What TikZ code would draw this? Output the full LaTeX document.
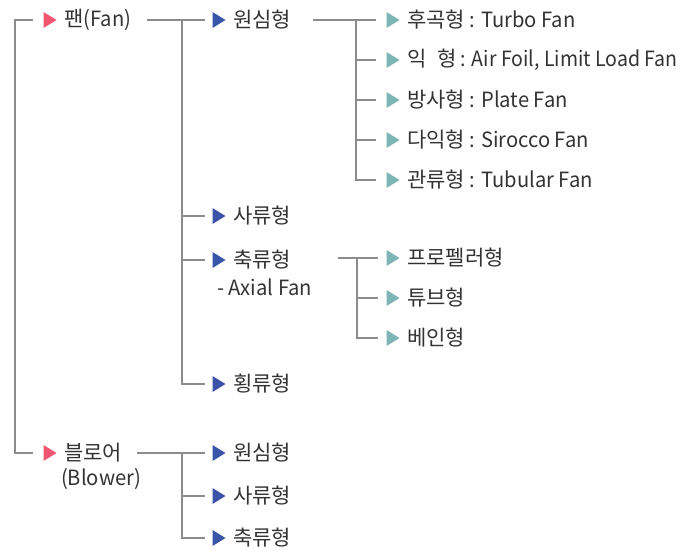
\documentclass[tikz,border=0pt]{standalone}
\usepackage{fontspec}
\setmainfont{Noto Sans CJK KR}
\newfontfamily\lt{Noto Sans CJK KR}[FakeStretch=0.96]
\newfontfamily\ltn{Noto Sans CJK KR}[FakeStretch=0.93]
\definecolor{linec}{HTML}{8C8C8E}
\definecolor{pinkc}{HTML}{F0566F}
\definecolor{bluec}{HTML}{3A55A8}
\definecolor{tealc}{HTML}{7DB4B6}
\definecolor{txtc}{HTML}{333333}
\begin{document}
\begin{tikzpicture}[x=1pt,y=-1pt,
  conn/.style={draw=linec,line width=2.6pt},
  lbl/.style={anchor=west,inner sep=0pt,text=txtc,font=\fontsize{21}{24}\selectfont},
  tri/.pic={\fill[pic actions] (-6.5,-8) -- (6.5,0) -- (-6.5,8) -- cycle;}]
\useasboundingbox (0,0) rectangle (685,550);
% level 0
\pic[fill=pinkc] at (50,20) {tri};
\node[lbl] (fan) at (64,20) {팬{\lt(Fan)}};
\pic[fill=pinkc] at (50,453) {tri};
\node[lbl] (blw) at (64,453) {블로어};
\node[lbl,anchor=center] (blw2) at (101,479) {\lt(Blower)};
\coordinate (r0a) at (33,20);
\coordinate (r0b) at (33,453);
\draw[conn] (r0a) -| (15,453) -- (r0b);
% level 1 (fan)
\coordinate (fanout) at (147,20);
\coordinate (b1) at (182,20);
\foreach \y/\n/\t in {20/won/원심형, 216/sa/사류형, 260/chuk/축류형, 384/hoeng/횡류형}{
  \pic[fill=bluec] at (219,\y) {tri};
  \node[lbl] (\n) at (233,\y) {\t};
  \coordinate (s\n) at (205,\y);
}
\node[lbl] (axial) at (217,287) {\lt- Axial Fan};
\draw[conn] (fanout) -- (swon);
\draw[conn] (b1) |- (shoeng);
\draw[conn] (182,216) -- (ssa);
\draw[conn] (182,260) -- (schuk);
% level 2 (won)
\foreach \y/\n/\t in {20/c1/{후곡형{\lt\ : Turbo Fan}}, 60/c2/{익\hspace{0.5em}형{\ltn\ : Air Foil, Limit Load Fan}}, 100/c3/{방사형{\lt\ : Plate Fan}}, 140/c4/{다익형{\lt\ : Sirocco Fan}}, 180/c5/{관류형{\lt\ : Tubular Fan}}}{
  \pic[fill=tealc] at (393,\y) {tri};
  \node[lbl] (\n) at (407,\y) {\t};
  \coordinate (s\n) at (376,\y);
}
\coordinate (wonout) at (313,20);
\draw[conn] (wonout) -- (sc1);
\draw[conn] (356,20) |- (sc5);
\foreach \y/\n in {60/sc2,100/sc3,140/sc4}{\draw[conn] (356,\y) -- (\n);}
% axial sub
\foreach \y/\n/\t in {258/a1/프로펠러형, 298/a2/튜브형, 338/a3/베인형}{
  \pic[fill=tealc] at (393,\y) {tri};
  \node[lbl] (\n) at (407,\y) {\t};
  \coordinate (s\n) at (378,\y);
}
\coordinate (axs) at (338,258);
\draw[conn] (axs) -- (sa1);
\draw[conn] (357,258) |- (sa3);
\draw[conn] (357,298) -- (sa2);
% blower sub
\foreach \y/\n/\t in {453/bw/원심형, 496/bs/사류형, 538/bc/축류형}{
  \pic[fill=bluec] at (219,\y) {tri};
  \node[lbl] (\n) at (233,\y) {\t};
  \coordinate (s\n) at (205,\y);
}
\coordinate (blwout) at (137,453);
\draw[conn] (blwout) -- (sbw);
\draw[conn] (182,453) |- (sbc);
\draw[conn] (182,496) -- (sbs);
\end{tikzpicture}
\end{document}
